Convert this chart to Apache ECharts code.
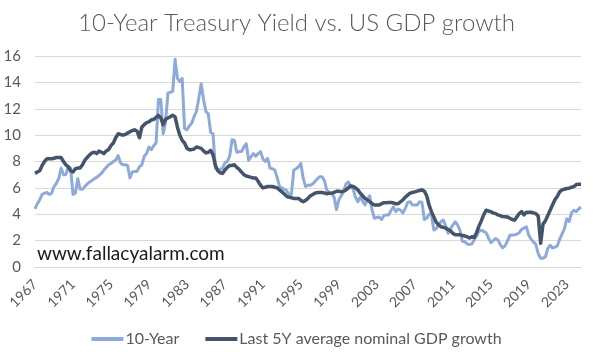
<!DOCTYPE html>
<html>
<head>
<meta charset="utf-8">
<script src="https://cdn.jsdelivr.net/npm/echarts@6/dist/echarts.min.js"></script>
<style>
html,body{margin:0;padding:0;background:#fff;}
#chart{width:593px;height:356px;}
</style>
</head>
<body>
<div id="chart"></div>
<script>
// Quarterly data, 1967 Q1 .. 2024 Q3
const startYear = 1967;
const tickYears = [1967,1971,1975,1979,1983,1987,1991,1995,1999,2003,2007,2011,2015,2019,2023];
const yTicks = [0,2,4,6,8,10,12,14,16];

const tenYear = [
4.4,4.8,5.1,5.5,
5.6,5.65,5.5,5.6,
6.1,6.35,6.7,7.5,
7.0,7.0,7.6,7.5,
5.5,5.6,6.7,5.9,
5.9,6.1,6.3,6.45,
6.55,6.7,6.8,6.95,
7.1,7.35,7.55,7.75,
7.85,8.0,8.1,8.45,
7.9,7.75,7.75,7.7,
6.75,7.2,7.25,7.25,
7.6,7.75,8.4,8.6,
9.1,8.9,9.2,9.4,
12.7,12.7,10.1,11.0,
13.2,13.25,13.3,15.75,
14.3,14.05,14.3,10.5,
10.4,10.7,10.9,11.4,
11.8,12.8,13.9,12.7,
11.8,11.6,10.2,10.1,
7.5,7.35,7.4,7.5,
7.9,8.0,8.4,9.65,
9.6,8.7,8.75,8.75,
9.1,9.35,8.1,8.35,
8.6,8.4,8.6,8.75,
8.2,8.0,8.24,7.5,
7.45,7.35,6.8,6.1,
6.0,5.9,5.8,5.5,
5.5,7.35,7.45,7.6,
7.85,6.7,6.1,6.2,
6.2,6.3,6.5,6.7,
6.85,6.85,6.5,5.8,
5.65,5.55,5.3,4.35,
5.1,5.4,5.7,6.3,
6.45,6.1,5.9,5.3,
4.95,5.3,5.0,4.7,
5.1,5.4,4.3,3.7,
3.75,3.8,3.6,3.9,
3.95,3.95,4.3,4.55,
4.2,4.4,4.3,4.1,
4.45,4.9,4.95,4.7,
4.7,4.7,4.95,4.9,
3.6,3.7,4.0,4.0,
2.8,2.9,3.2,3.43,
3.56,3.1,2.55,2.9,
3.18,3.43,3.2,2.8,
1.95,1.92,1.75,1.7,
1.75,2.05,2.35,2.7,
2.8,2.7,2.6,2.2,
1.85,2.0,2.15,2.05,
1.7,1.45,1.6,1.95,
2.4,2.43,2.43,2.5,
2.6,2.85,2.95,3.05,
2.4,2.1,1.9,1.7,
1.0,0.66,0.66,0.78,
1.4,1.65,1.45,1.5,
1.6,2.1,2.5,2.9,
3.65,3.45,4.1,4.3,
4.2,4.4,4.55
];

const gdp5y = [
7.1,7.2,7.3,7.7,
8.0,8.2,8.2,8.2,
8.25,8.3,8.3,8.3,
8.0,7.75,7.6,7.3,
7.2,7.45,7.5,7.5,
7.75,8.1,8.3,8.5,
8.65,8.7,8.6,8.8,
8.7,8.6,8.8,8.9,
9.2,9.4,9.8,10.1,
10.05,10.0,10.05,10.15,
10.25,10.35,10.4,10.3,
9.8,10.6,10.8,10.95,
11.0,11.15,11.2,11.35,
11.5,11.3,10.8,11.2,
11.3,11.4,11.5,11.4,
10.6,10.0,9.6,9.4,
9.0,8.9,8.9,8.95,
9.1,9.05,9.0,8.8,
8.65,8.7,8.85,8.5,
7.7,7.3,7.15,7.1,
7.35,7.55,7.7,7.7,
7.75,7.55,7.4,7.2,
7.0,6.9,6.85,6.8,
6.75,6.75,6.5,6.2,
6.0,6.05,6.1,6.1,
6.1,6.05,6.0,5.85,
5.7,5.55,5.35,5.3,
5.25,5.2,5.2,5.2,
5.05,4.95,5.05,5.2,
5.4,5.5,5.6,5.65,
5.65,5.65,5.6,5.55,
5.6,5.6,5.65,5.75,
5.75,5.7,5.75,5.85,
6.0,6.15,6.1,6.0,
5.85,5.6,5.4,5.2,
5.1,4.95,4.8,4.7,
4.7,4.7,4.8,4.88,
4.88,4.9,4.9,4.85,
4.8,4.8,4.95,5.1,
5.3,5.45,5.6,5.65,
5.7,5.75,5.8,5.85,
5.75,5.4,4.7,4.2,
3.8,3.4,3.2,3.05,
3.0,2.95,2.85,2.75,
2.55,2.45,2.45,2.45,
2.4,2.35,2.3,2.2,
2.3,2.25,2.6,3.1,
3.5,3.95,4.3,4.25,
4.2,4.1,4.05,3.95,
3.9,3.82,3.81,3.8,
3.7,3.6,3.55,3.8,
4.05,4.2,3.95,4.15,
4.15,4.15,4.1,4.05,
3.85,1.8,3.25,3.5,
3.9,4.3,4.7,5.1,
5.35,5.7,5.85,5.9,
5.95,5.97,6.05,6.1,
6.25,6.28,6.28
];

const categories = tenYear.map((_, i) => (startYear + Math.floor(i / 4)) + ' Q' + (i % 4 + 1));

const chart = echarts.init(document.getElementById('chart'), null, {renderer: 'canvas'});
const FONT = 'Lato, "Noto Sans", sans-serif';
chart.setOption({
  animation: false,
  backgroundColor: '#ffffff',
  title: {
    text: '10-Year Treasury Yield vs. US GDP growth',
    left: 'center',
    top: 6,
    textStyle: {fontFamily: FONT, fontSize: 24, fontWeight: 300, color: '#595959'}
  },
  legend: {
    bottom: 4,
    left: 'center',
    itemWidth: 32,
    itemHeight: 4,
    itemGap: 26,
    icon: 'rect',
    textStyle: {fontFamily: FONT, fontSize: 16, color: '#595959', padding: [0,0,0,-3]},
    data: ['10-Year', 'Last 5Y average nominal GDP growth']
  },
  grid: {left: 35, right: 12, top: 56, bottom: 89, containLabel: false},
  xAxis: {
    type: 'category',
    data: categories,
    boundaryGap: false,
    axisLine: {show: true, lineStyle: {color: '#d9d9d9', width: 1}},
    axisTick: {show: false},
    splitLine: {show: false},
    axisLabel: {
      interval: function (i, v) { return tickYears.indexOf(+v.slice(0,4)) >= 0 && v.slice(5) === 'Q1'; },
      rotate: 45,
      margin: 15,
      fontFamily: FONT, fontSize: 14, color: '#595959',
      formatter: v => v.slice(0, 4)
    }
  },
  yAxis: {
    type: 'value',
    min: yTicks[0], max: yTicks[yTicks.length - 1], interval: 2,
    axisLine: {show: false},
    axisTick: {show: false},
    splitLine: {lineStyle: {color: '#d9d9d9', width: 1}},
    axisLabel: {margin: 14, fontFamily: FONT, fontSize: 15, color: '#595959'}
  },
  graphic: [{
    type: 'text', left: 37, top: 244,
    style: {text: 'www.fallacyalarm.com', font: '19px ' + FONT, fill: '#1a1a1a'}
  }],
  series: [
    {
      name: '10-Year', type: 'line', data: tenYear, symbol: 'none',
      lineStyle: {color: '#8eaadb', width: 3, join: 'round'},
      itemStyle: {color: '#8eaadb'}
    },
    {
      name: 'Last 5Y average nominal GDP growth', type: 'line', data: gdp5y, symbol: 'none',
      lineStyle: {color: '#44546a', width: 3.5, join: 'round'},
      itemStyle: {color: '#44546a'}
    }
  ]
});
</script>
</body>
</html>
